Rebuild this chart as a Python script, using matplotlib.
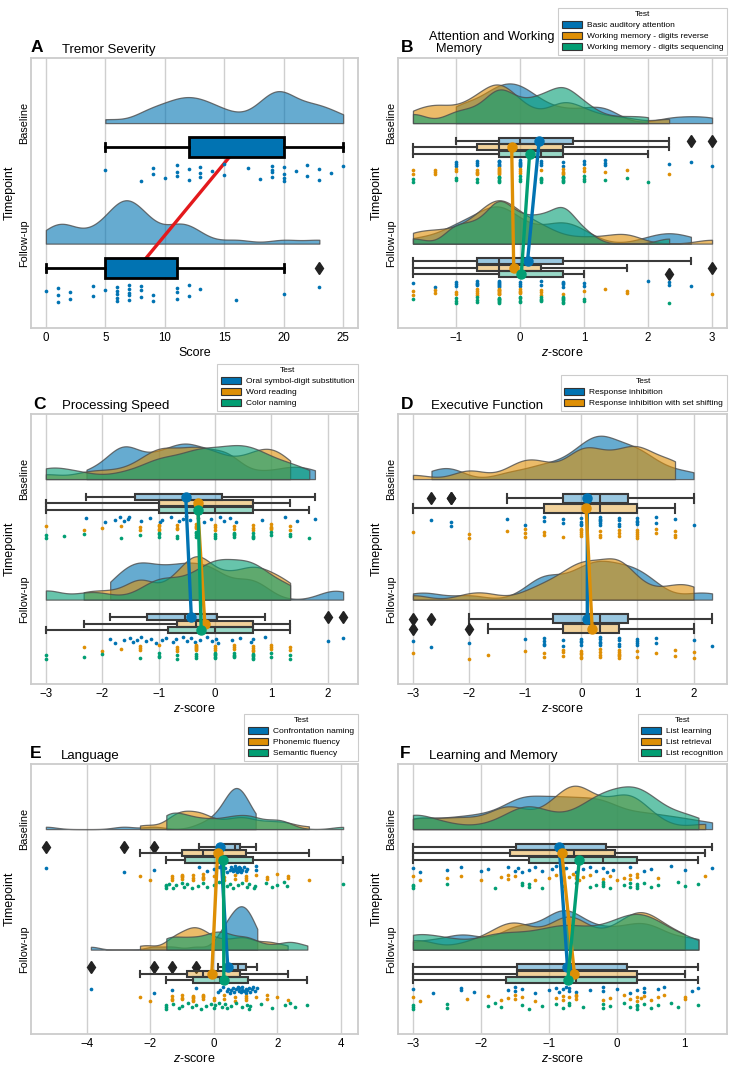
import numpy as np
import matplotlib
matplotlib.use("Agg")
import matplotlib.pyplot as plt
from matplotlib.patches import Patch
from matplotlib.colors import to_rgba

plt.rcParams['font.family'] = ['Liberation Sans', 'DejaVu Sans']
plt.rcParams['mathtext.fontset'] = 'custom'
plt.rcParams['mathtext.it'] = 'Liberation Sans:italic'
plt.rcParams['mathtext.rm'] = 'Liberation Sans'

BLUE, ORANGE, GREEN = "#0173b2", "#de8f05", "#029e73"
HUE_COLORS = [BLUE, ORANGE, GREEN]
TIMEPOINTS = ["Baseline", "Follow-up"]

# ---------------- Panel A: Tremor Severity ----------------
A_tests = ["Tremor severity"]
A_base = [5, 8, 9, 9, 10, 11, 11, 11, 12, 12, 13, 13, 13, 14, 15, 15, 17, 18, 19, 19, 19, 19,
          20, 20, 20, 20, 21, 22, 22, 23, 23, 24, 25]
A_fu = [0, 1, 1, 1, 2, 2, 4, 4, 5, 6, 6, 6, 6, 6, 7, 7, 7, 7, 7, 8, 8, 8, 9, 9, 11, 11, 11,
        12, 12, 13, 16, 20, 23]
A_xticks = [0, 5, 10, 15, 20, 25]

# ---------------- Panel B: Attention and Working Memory ----------------
B_tests = ["Basic auditory attention", "Working memory - digits reverse",
           "Working memory - digits sequencing"]
B_base_attn = [-1, -1, -1, -0.67, -0.67, -0.67, -0.33, -0.33, -0.33, -0.33, -0.33, -0.33,
               0, 0, 0, 0, 0, 0, 0.33, 0.33, 0.33, 0.67, 0.67, 1, 1, 1.33, 1.33, 1.33,
               2.33, 2.67, 3]
B_base_rev = [-1.67, -1.67, -1.33, -1.33, -1.33, -1, -1, -0.67, -0.67, -0.67, -0.67,
              -0.33, -0.33, -0.33, -0.33, -0.33, -0.33, -0.33, 0, 0, 0, 0.33,
              0.67, 0.67, 0.67, 0.67, 1, 1, 1.33, 1.67, 2.33]
B_base_seq = [-1.67, -1.67, -1, -1, -0.67, -0.67, -0.33, -0.33, -0.33, -0.33, -0.33, -0.33,
              0, 0, 0, 0.33, 0.33, 0.33, 0.33, 0.67, 0.67, 0.67, 0.67, 0.67, 0.67,
              1, 1, 1, 1.33, 1.67, 2]
B_fu_attn = [-1.67, -1.33, -1, -1, -1, -0.67, -0.67, -0.67, -0.67, -0.33, -0.33, -0.33,
             -0.33, -0.33, -0.33, -0.33, 0, 0, 0, 0.33, 0.33, 0.67, 0.67, 0.67, 0.67,
             1, 1, 2, 2.33, 2.33, 2.67]
B_fu_rev = [-1.67, -1.67, -1.33, -1.33, -1, -1, -0.67, -0.67, -0.67, -0.67, -0.33, -0.33,
            -0.33, -0.33, -0.33, -0.33, -0.33, -0.33, 0, 0, 0, 0, 0.33, 0.33, 0.33,
            0.67, 1, 1.33, 1.67, 1.67, 3]
B_fu_seq = [-1.67, -1, -1, -1, -0.67, -0.67, -0.67, -0.33, -0.33, -0.33, -0.33, -0.33,
            -0.33, -0.33, 0, 0, 0, 0, 0.33, 0.33, 0.33, 0.33, 0.67, 0.67, 0.67, 0.67,
            0.67, 0.67, 1, 1, 2.33]
B_xticks = [-1, 0, 1, 2, 3]

# ---------------- Panel C: Processing Speed ----------------
C_tests = ["Oral symbol-digit substitution", "Word reading", "Color naming"]
C_base_osds = [-2.28, -1.95, -1.77, -1.69, -1.61, -1.54, -1.53, -1.31, -1.15, -0.97, -0.94,
               -0.78, -0.64, -0.57, -0.51, -0.44, -0.31, -0.20, -0.07, 0.09, 0.16, 0.27,
               0.37, 0.84, 1.24, 1.46, 1.77]
C_base_word = [-3, -2.33, -2, -1.67, -1.33, -1.33, -1, -1, -1, -1, -0.67, -0.67, -0.67,
               -0.33, -0.33, -0.33, -0.33, 0, 0, 0, 0.33, 0.33, 0.67, 0.67, 0.67,
               1, 1, 1, 1, 1.33, 1.33]
C_base_color = [-3, -3, -2.67, -2.33, -1.67, -1.33, -1, -1, -1, -0.67, -0.67, -0.33, -0.33,
                -0.33, -0.33, 0, 0, 0, 0.33, 0.33, 0.33, 0.33, 0.67, 0.67, 0.67, 0.67,
                1, 1, 1.33, 1.33, 1.67]
C_fu_osds = [-1.86, -1.77, -1.61, -1.51, -1.46, -1.39, -1.31, -1.23, -1.14, -1.05, -0.94,
             -0.87, -0.74, -0.70, -0.57, -0.50, -0.42, -0.35, -0.27, -0.15, -0.06, 0.01,
             0.05, 0.30, 0.45, 0.63, 0.68, 0.88, 2.0, 2.27]
C_fu_word = [-2.33, -2, -1.67, -1.33, -1.33, -1.33, -1, -0.67, -0.67, -0.67, -0.33, -0.33,
             -0.33, -0.33, -0.33, -0.33, 0, 0, 0, 0.33, 0.33, 0.33, 0.67, 0.67, 0.67,
             0.67, 1, 1, 1, 1.33, 1.33]
C_fu_color = [-3, -3, -2.33, -2, -1.33, -1, -1, -1, -0.67, -0.67, -0.33, -0.33, -0.33,
              0, 0, 0, 0, 0, 0.33, 0.33, 0.33, 0.33, 0.67, 0.67, 0.67, 0.67, 0.67,
              1, 1, 1.33, 1.33]
C_xticks = [-3, -2, -1, 0, 1, 2]

# ---------------- Panel D: Executive Function ----------------
D_tests = ["Response inhibition", "Response inhibition with set shifting"]
D_base_inh = [-2.67, -2.33, -2.33, -1.33, -1, -0.67, -0.67, -0.33, -0.33, 0, 0, 0, 0,
              0.33, 0.33, 0.33, 0.33, 0.33, 0.33, 0.67, 0.67, 0.67, 0.67, 1, 1, 1, 1,
              1.33, 1.33, 1.67, 2]
D_base_shift = [-3, -2, -2, -1.33, -1, -1, -1, -0.67, -0.67, -0.33, 0, 0, 0, 0, 0,
                0.33, 0.33, 0.33, 0.67, 0.67, 0.67, 1, 1, 1, 1, 1, 1.33, 1.33,
                1.67, 1.67, 1.67]
D_fu_inh = [-3, -2.67, -2, -1, -0.67, -0.67, -0.67, -0.67, -0.33, -0.33, 0, 0, 0, 0,
            0.33, 0.33, 0.33, 0.33, 0.33, 0.67, 0.67, 0.67, 0.67, 1, 1, 1, 1,
            1.33, 1.33, 2, 2.33]
D_fu_shift = [-3, -2, -1.67, -1, -0.67, -0.67, -0.33, -0.33, -0.33, 0, 0, 0, 0, 0,
              0.33, 0.33, 0.33, 0.33, 0.67, 0.67, 0.67, 0.67, 0.67, 0.67, 1, 1,
              1.33, 1.67, 1.67, 2, 2]
D_xticks = [-3, -2, -1, 0, 1, 2]

# ---------------- Panel E: Language ----------------
E_tests = ["Confrontation naming", "Phonemic fluency", "Semantic fluency"]
E_base_naming = [-5.3, -2.84, -1.89, -0.46, -0.2, 0.0, 0.15, 0.3, 0.35, 0.4, 0.5, 0.55,
                 0.6, 0.62, 0.67, 0.67, 0.7, 0.72, 0.75, 0.78, 0.8, 0.82, 0.85, 0.9,
                 0.95, 1.0, 1.05, 1.32, 1.32]
E_base_phon = [-2.33, -2, -1.33, -1.33, -1.33, -1, -1, -1, -1, -0.67, -0.67, -0.67,
               -0.33, -0.33, -0.33, -0.33, 0, 0.33, 0.33, 0.67, 0.67, 1, 1, 1, 1.33,
               1.67, 1.67, 2, 2.33, 2.33, 3]
E_base_sem = [-1.5, -1.5, -1.5, -1.4, -1.3, -1.2, -1.0, -0.95, -0.85, -0.7, -0.5, -0.35,
              -0.2, 0.0, 0.15, 0.4, 0.5, 0.6, 0.75, 0.9, 1.05, 1.1, 1.27, 1.3, 1.65,
              1.85, 2.0, 2.2, 2.3, 4.08]
E_fu_naming = [-3.88, -1.89, -1.32, -0.56, 0.14, 0.2, 0.3, 0.4, 0.45, 0.5, 0.55, 0.6,
               0.65, 0.7, 0.75, 0.78, 0.8, 0.85, 0.88, 0.9, 0.95, 1.0, 1.02, 1.05, 1.1,
               1.15, 1.2, 1.25, 1.3, 1.37]
E_fu_phon = [-2.33, -2, -1.33, -1.33, -1.33, -1, -1, -1, -0.67, -0.67, -0.67, -0.67,
             -0.67, -0.33, -0.33, -0.33, -0.33, 0, 0, 0.33, 0.33, 0.67, 0.67, 1, 1, 1,
             1.33, 1.67, 1.67, 2, 2.33]
E_fu_sem = [-1.5, -1.5, -1.5, -1.3, -1.1, -1.0, -0.8, -0.7, -0.55, -0.4, -0.25, -0.1,
            0.0, 0.05, 0.15, 0.25, 0.35, 0.4, 0.55, 0.7, 0.9, 1.05, 1.1, 1.15, 1.5,
            1.85, 2.25, 2.4, 2.55, 2.95]
E_xticks = [-4, -2, 0, 2, 4]

# ---------------- Panel F: Learning and Memory ----------------
F_tests = ["List learning", "List retrieval", "List recognition"]
F_base_learn = [-3.0, -2.9, -2.5, -2.3, -2.0, -1.9, -1.6, -1.5, -1.45, -1.4, -1.3, -1.2,
                -1.1, -0.95, -0.9, -0.8, -0.75, -0.6, -0.5, -0.4, -0.3, -0.2, -0.15,
                -0.05, 0.2, 0.4, 0.5, 0.8, 1.0, 1.4]
F_base_retr = [-3.0, -2.9, -2.5, -2.3, -2.0, -1.7, -1.6, -1.6, -1.5, -1.2, -1.0, -0.9,
               -0.8, -0.7, -0.65, -0.6, -0.6, -0.55, -0.5, -0.4, -0.2, -0.1, 0.0, 0.1,
               0.2, 0.2, 0.3, 0.3, 0.6, 1.3]
F_base_recog = [-3.0, -3.0, -3.0, -2.5, -1.8, -1.4, -1.4, -1.3, -1.3, -1.1, -0.8, -0.6,
                -0.4, -0.3, -0.2, -0.2, -0.2, -0.1, 0.1, 0.2, 0.2, 0.3, 0.3, 0.3, 0.4,
                0.5, 0.6, 0.9, 1.0, 1.2]
F_fu_learn = [-3.0, -2.7, -2.3, -2.3, -2.1, -1.6, -1.5, -1.5, -1.4, -1.2, -1.0, -0.9,
              -0.85, -0.8, -0.75, -0.7, -0.7, -0.6, -0.4, -0.2, -0.2, 0.0, 0.2, 0.3,
              0.4, 0.4, 0.6, 0.7, 1.1, 1.2]
F_fu_retr = [-3.0, -2.9, -2.2, -1.9, -1.7, -1.6, -1.5, -1.5, -1.4, -1.2, -0.9, -0.8, -0.8,
             -0.7, -0.6, -0.6, -0.6, -0.2, -0.1, 0.1, 0.2, 0.3, 0.3, 0.35, 0.4, 0.5,
             0.6, 0.7, 1.0, 1.0]
F_fu_recog = [-3.0, -3.0, -3.0, -2.5, -2.5, -1.9, -1.8, -1.7, -1.4, -1.3, -1.1, -0.9,
              -0.8, -0.7, -0.7, -0.5, -0.2, -0.2, -0.1, 0.1, 0.2, 0.3, 0.3, 0.3, 0.4,
              0.5, 0.6, 0.8, 0.9, 1.2]
F_xticks = [-3, -2, -1, 0, 1]

ZLABEL = "$z$-score"

# ---------------- layout / style constants ----------------
BW_FACTOR = 0.24
CLOUD_H = 0.36
YLIM = (1.70, -0.54)

fig = plt.figure(figsize=(7.33, 10.66), dpi=100)

W_L, W_R = 327 / 733, 329 / 733
H = 270 / 1066
rects = {
    'A': [31 / 733, 1 - 328 / 1066, W_L, H],
    'B': [398 / 733, 1 - 328 / 1066, W_R, H],
    'C': [31 / 733, 1 - 684 / 1066, W_L, H],
    'D': [398 / 733, 1 - 684 / 1066, W_R, H],
    'E': [31 / 733, 1 - 1034 / 1066, W_L, H],
    'F': [398 / 733, 1 - 1034 / 1066, W_R, H],
}

panels = [
    dict(key='A', title="Tremor Severity", xlabel="Score", tests=A_tests,
         base=[A_base], fu=[A_fu], xticks=A_xticks, letter_x=0.0, title_x=0.095),
    dict(key='B', title="Attention and Working\n  Memory", xlabel=ZLABEL, tests=B_tests,
         base=[B_base_attn, B_base_rev, B_base_seq], fu=[B_fu_attn, B_fu_rev, B_fu_seq],
         xticks=B_xticks, letter_x=0.009, title_x=0.094),
    dict(key='C', title="Processing Speed", xlabel=ZLABEL, tests=C_tests,
         base=[C_base_osds, C_base_word, C_base_color], fu=[C_fu_osds, C_fu_word, C_fu_color],
         xticks=C_xticks, letter_x=0.006, title_x=0.095),
    dict(key='D', title="Executive Function", xlabel=ZLABEL, tests=D_tests,
         base=[D_base_inh, D_base_shift], fu=[D_fu_inh, D_fu_shift],
         xticks=D_xticks, letter_x=0.009, title_x=0.1),
    dict(key='E', title="Language", xlabel=ZLABEL, tests=E_tests,
         base=[E_base_naming, E_base_phon, E_base_sem], fu=[E_fu_naming, E_fu_phon, E_fu_sem],
         xticks=E_xticks, letter_x=-0.003, title_x=0.09),
    dict(key='F', title="Learning and Memory", xlabel=ZLABEL, tests=F_tests,
         base=[F_base_learn, F_base_retr, F_base_recog], fu=[F_fu_learn, F_fu_retr, F_fu_recog],
         xticks=F_xticks, letter_x=0.006, title_x=0.094),
]


def kde_curve(vals, n=400):
    v = np.asarray(vals, float)
    grid = np.linspace(v.min(), v.max(), n)
    bw = BW_FACTOR * v.std(ddof=1)
    z = (grid[:, None] - v[None, :]) / bw
    dens = np.exp(-0.5 * z ** 2).sum(axis=1) / (len(v) * bw * np.sqrt(2 * np.pi))
    return grid, dens


def jitter(n):
    return 0.1 + 0.8 * ((np.arange(n) * 0.618034 + 0.37) % 1.0)


for p in panels:
    ax = fig.add_axes(rects[p['key']])
    series = [p['base'], p['fu']]
    nh = len(p['base'])
    single = nh == 1
    colors = HUE_COLORS[:nh]

    # clouds
    curves = [[kde_curve(series[t][h]) for h in range(nh)] for t in range(2)]
    dmax = max(c[1].max() for row in curves for c in row)
    for t in range(2):
        for h in range(nh):
            g, d = curves[t][h]
            ax.fill_between(g, t, t - CLOUD_H * d / dmax,
                            facecolor=to_rgba(colors[h], 0.6),
                            edgecolor=(0.3, 0.3, 0.3, 0.8), linewidth=0.9, zorder=2)

    # boxes
    spacing = 0.165 / nh
    for t in range(2):
        for h in range(nh):
            v = np.asarray(series[t][h], float)
            pos = t + 0.2 + (h - (nh - 1) / 2) * spacing
            if single:
                w, fc, ec, lw, capw = 0.165, colors[h], 'black', 2.0, 0.07
                mcol = colors[h]
                mlw = 0
            else:
                w, fc, ec, lw, capw = spacing * 0.92, to_rgba(colors[h], 0.4), '#3a3a3a', 1.5, spacing * 0.92
                mcol = ec
                mlw = lw
            ax.boxplot([v], positions=[pos], widths=w, orientation='horizontal', whis=1.5,
                       patch_artist=True, manage_ticks=False, capwidths=[capw],
                       boxprops=dict(facecolor=fc, edgecolor=ec, linewidth=lw),
                       whiskerprops=dict(color=ec, linewidth=lw),
                       capprops=dict(color=ec, linewidth=lw),
                       medianprops=dict(color=mcol, linewidth=mlw),
                       flierprops=dict(marker='d', markerfacecolor='#222222',
                                       markeredgecolor='#222222', markersize=6,
                                       linestyle='none'),
                       zorder=3)

    # rain
    for t in range(2):
        for h in range(nh):
            v = np.asarray(series[t][h], float)
            if single:
                y = t + 0.32 + 0.18 * jitter(len(v))
            else:
                band = 0.2 / nh
                y = t + 0.3 + band * (h + jitter(len(v)))
            ax.scatter(v, y, s=7, color=colors[h], linewidths=0, zorder=4)

    # mean lines
    for h in range(nh):
        m0 = np.mean(series[0][h])
        m1 = np.mean(series[1][h])
        off = 0.2 + (h - (nh - 1) / 2) * spacing
        if single:
            ax.plot([m0, m1], [off, 1 + off], color='#e3191c', lw=2.4, zorder=2.5,
                    solid_capstyle='butt')
        else:
            ax.plot([m0, m1], [off, 1 + off], color=colors[h], lw=2.4, marker='o',
                    markersize=6.5, zorder=5)

    # axes styling
    ax.set_ylim(*YLIM)
    ax.set_yticks([0, 1])
    ax.set_yticklabels(TIMEPOINTS, rotation=90, va='center', fontsize=7.8)
    ax.set_xticks(p['xticks'])
    ax.set_xticklabels([("\u2212" + str(abs(x))) if x < 0 else str(x) for x in p['xticks']],
                       fontsize=8.3)
    all_vals = np.concatenate([np.asarray(s, float) for row in series for s in row])
    lo, hi = all_vals.min(), all_vals.max()
    pad = 0.05 * (hi - lo)
    ax.set_xlim(lo - pad, hi + pad)
    ax.tick_params(axis='x', length=0, pad=3)
    ax.tick_params(axis='y', length=0, pad=1.5)
    ax.grid(axis='x', color='#cfcfcf', linewidth=1.0)
    ax.grid(axis='y', visible=False)
    ax.set_axisbelow(True)
    for s in ax.spines.values():
        s.set_color('#cccccc')
        s.set_linewidth(1.3)
    ax.set_xlabel(p['xlabel'], fontsize=9, labelpad=2)
    ax.set_ylabel("Timepoint", fontsize=9, labelpad=2)

    # letter + title
    ax.text(p['letter_x'], 1 + 5.5 / 270, p['key'], transform=ax.transAxes,
            fontsize=12.5, fontweight='bold', ha='left', va='baseline')
    if "\n" in p['title']:
        ax.text(p['title_x'], 1 + 3 / 270, p['title'], transform=ax.transAxes,
                fontsize=9.2, ha='left', va='bottom', linespacing=1.0)
    else:
        ax.text(p['title_x'], 1 + 5.5 / 270, p['title'], transform=ax.transAxes,
                fontsize=9.5, ha='left', va='baseline')

    # legend
    if not single:
        handles = [Patch(facecolor=colors[h], edgecolor='#333333', linewidth=0.8)
                   for h in range(nh)]
        leg = ax.legend(handles, p['tests'], title="Test", loc='lower right',
                        bbox_to_anchor=(1.0, 1.0 + 3 / 270), borderaxespad=0,
                        fontsize=6, title_fontsize=6, handlelength=2.4,
                        handleheight=0.8, handletextpad=0.6, labelspacing=0.35,
                        borderpad=0.45, framealpha=1, fancybox=False,
                        edgecolor='#cccccc')
        leg.get_frame().set_linewidth(0.8)

fig.savefig("out.png", dpi=100)
